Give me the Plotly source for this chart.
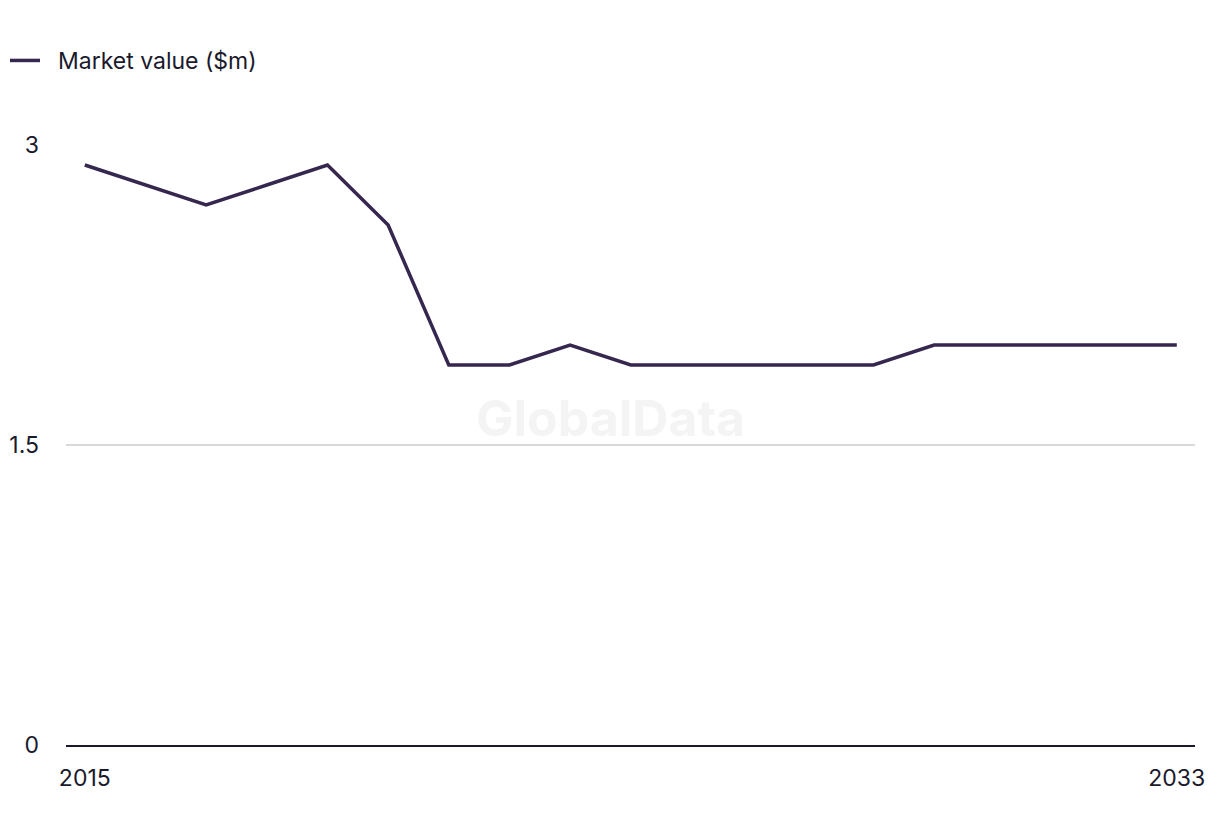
import plotly.graph_objects as go

years = list(range(2015, 2034))
market_value = [2.9, 2.8, 2.7, 2.8, 2.9, 2.6, 1.9, 1.9, 2.0, 1.9, 1.9, 1.9, 1.9, 1.9, 2.0, 2.0, 2.0, 2.0, 2.0]
series_name = "Market value ($m)"
y_ticks = [0, 1.5, 3]
y_tick_labels = ["0", "1.5", "3"]
x_ticks = [2015, 2033]
x_tick_labels = ["2015", "2033"]

FONT = "Inter"
TEXT = "#1a1a2c"
LINE = "#36274f"

fig = go.Figure()
fig.add_trace(go.Scatter(
    x=years, y=market_value, mode="lines", name="\u00a0\u00a0" + series_name,
    line=dict(color=LINE, width=3.5), showlegend=True,
))

fig.update_layout(
    width=1220, height=836,
    margin=dict(l=66, r=25, t=145, b=91),
    paper_bgcolor="white", plot_bgcolor="white",
    font=dict(family=FONT, size=23, color=TEXT),
    showlegend=True,
    legend=dict(
        orientation="h", xref="container", yref="container",
        x=5 / 1220, y=1 - 39 / 836, xanchor="left", yanchor="top",
        font=dict(family=FONT, size=23, color=TEXT),
        itemwidth=30,
    ),
    xaxis=dict(
        range=[2014.69, 2033.3], tickvals=x_ticks, ticktext=x_tick_labels,
        showgrid=False, zeroline=False, showline=True, linecolor="#1a1a2c", linewidth=1.5,
        ticks="", ticklabelstandoff=12, automargin=False,
    ),
    yaxis=dict(
        range=[0, 3], tickvals=y_ticks, ticktext=y_tick_labels,
        showgrid=True, gridcolor="#d9d9d9", gridwidth=1.5, zeroline=False, showline=False,
        ticks="", ticklabelstandoff=26, automargin=False,
    ),
    annotations=[dict(
        text="<b>GlobalData</b>", xref="paper", yref="paper", x=0.482, y=0.545,
        showarrow=False, font=dict(family="Inter", size=50, color="#f4f4f4"),
    )],
)

fig.write_html("out.html")
